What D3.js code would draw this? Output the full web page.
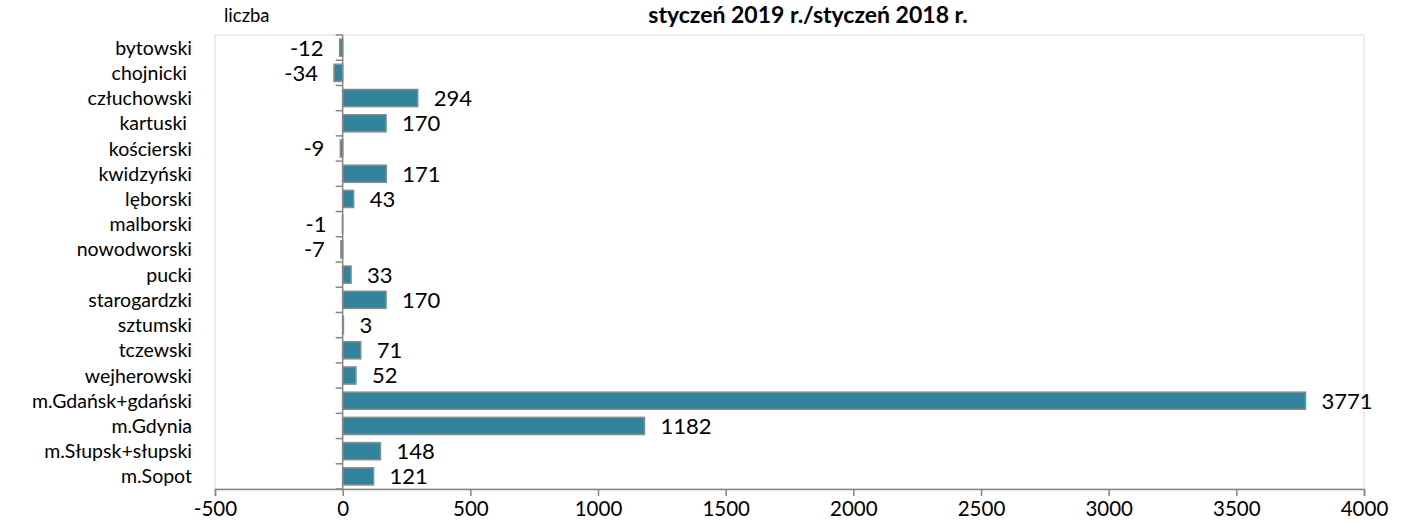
<!DOCTYPE html>
<html>
<head>
<meta charset="utf-8">
<script src="https://cdn.jsdelivr.net/npm/d3@7"></script>
<style>
  html, body { margin: 0; padding: 0; background: #fff; }
  svg { display: block; }
  text { font-family: Lato, "Open Sans", sans-serif; white-space: pre; }
</style>
</head>
<body>
<svg id="chart" width="1405" height="529"></svg>
<script>
const categories = ["bytowski", "chojnicki ", "człuchowski", "kartuski ", "kościerski", "kwidzyński", "lęborski", "malborski", "nowodworski", "pucki", "starogardzki", "sztumski", "tczewski", "wejherowski", "m.Gdańsk+gdański", "m.Gdynia", "m.Słupsk+słupski", "m.Sopot"];
const values = [-12, -34, 294, 170, -9, 171, 43, -1, -7, 33, 170, 3, 71, 52, 3771, 1182, 148, 121];
const xTicks = [-500, 0, 500, 1000, 1500, 2000, 2500, 3000, 3500, 4000];
const titleText = "styczeń 2019 r./styczeń 2018 r.";
const unitText = "liczba";

const svg = d3.select("#chart");
const pLeft = 215, pRight = 1364, pTop = 35, pBottom = 489;

const x = d3.scaleLinear().domain([-500, 4000]).range([pLeft, pRight]);
const y = d3.scaleBand().domain(categories).range([pTop, pBottom]).paddingInner(0.32).paddingOuter(0.16);

// plot border
svg.append("rect").attr("x", pLeft).attr("y", pTop).attr("width", pRight - pLeft).attr("height", pBottom - pTop)
  .attr("fill", "none").attr("stroke", "#d9d9d9").attr("stroke-width", 1);

// bars
svg.append("g").selectAll("rect").data(values).join("rect")
  .attr("x", d => x(Math.min(0, d)))
  .attr("y", (d, i) => y(categories[i]))
  .attr("width", d => Math.abs(x(d) - x(0)))
  .attr("height", y.bandwidth())
  .attr("fill", "#31849b")
  .attr("stroke", "#8c8c8c")
  .attr("stroke-width", 1.5);

// value labels
svg.append("g").selectAll("text").data(values).join("text")
  .attr("x", d => d >= 0 ? x(d) + 16 : x(d) - 16)
  .attr("y", (d, i) => y(categories[i]) + y.bandwidth() / 2)
  .attr("dy", "0.36em")
  .attr("text-anchor", d => d >= 0 ? "start" : "end")
  .attr("font-size", 22)
  .attr("fill", "#000")
  .text(d => String(d));

// y axis (vertical line at zero with ticks at band boundaries)
const yAxisG = svg.append("g").attr("transform", `translate(${x(0)},0)`);
yAxisG.append("line").attr("x1", 0).attr("x2", 0).attr("y1", pTop).attr("y2", pBottom)
  .attr("stroke", "#868686").attr("stroke-width", 1.5);
const bounds = d3.range(categories.length + 1).map(i => pTop + i * (pBottom - pTop) / categories.length);
yAxisG.selectAll("line.t").data(bounds).join("line").attr("class", "t")
  .attr("x1", -7).attr("x2", 0).attr("y1", d => d).attr("y2", d => d)
  .attr("stroke", "#868686").attr("stroke-width", 1.5);

// category labels
svg.append("g").selectAll("text").data(categories).join("text")
  .attr("x", 192)
  .attr("y", d => y(d) + y.bandwidth() / 2)
  .attr("dy", "0.36em")
  .attr("text-anchor", "end")
  .attr("font-size", 19.5)
  .attr("fill", "#000")
  .text(d => d);

// x axis
const xAxis = d3.axisBottom(x).tickValues(xTicks).tickSize(7).tickPadding(5).tickFormat(d => String(d));
const xg = svg.append("g").attr("transform", `translate(0,${pBottom})`).call(xAxis);
xg.select(".domain").attr("stroke", "#868686").attr("stroke-width", 1.5);
xg.selectAll(".tick line").attr("stroke", "#868686").attr("stroke-width", 1.5);
xg.selectAll(".tick text").attr("font-family", "Lato, sans-serif").attr("font-size", 20.5).attr("fill", "#000");

// title and unit
svg.append("text").attr("x", 808).attr("y", 23).attr("text-anchor", "middle")
  .attr("font-size", 23).attr("font-weight", "bold").attr("fill", "#000").text(titleText);
svg.append("text").attr("x", 224).attr("y", 22).attr("font-size", 18.5).attr("fill", "#000").text(unitText);
</script>
</body>
</html>
